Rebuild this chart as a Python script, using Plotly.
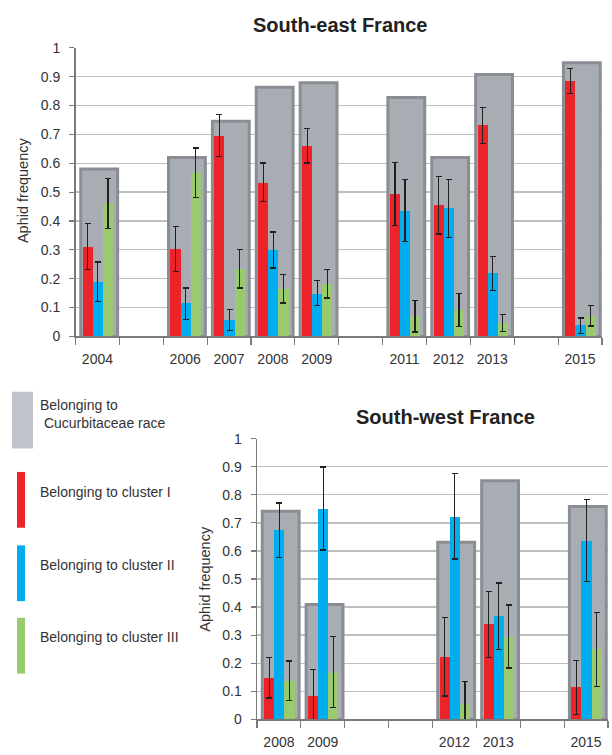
import plotly.graph_objects as go

# ---------------- data ----------------
se_years = [2004, 2006, 2007, 2008, 2009, 2011, 2012, 2013, 2015]
se_cucurbit = [0.58, 0.62, 0.746, 0.863, 0.879, 0.828, 0.62, 0.908, 0.948]
se_c1 = [0.311, 0.304, 0.696, 0.533, 0.660, 0.494, 0.454, 0.731, 0.885]
se_c1_hi = [0.391, 0.382, 0.768, 0.601, 0.720, 0.603, 0.554, 0.794, 0.929]
se_c1_lo = [0.232, 0.225, 0.624, 0.468, 0.601, 0.385, 0.355, 0.669, 0.842]
se_c2 = [0.189, 0.114, 0.056, 0.299, 0.148, 0.436, 0.444, 0.219, 0.038]
se_c2_hi = [0.258, 0.168, 0.093, 0.362, 0.194, 0.543, 0.545, 0.276, 0.064]
se_c2_lo = [0.122, 0.059, 0.020, 0.237, 0.106, 0.328, 0.344, 0.160, 0.011]
se_c3 = [0.462, 0.567, 0.234, 0.164, 0.180, 0.070, 0.090, 0.046, 0.072]
se_c3_hi = [0.548, 0.653, 0.300, 0.215, 0.231, 0.125, 0.148, 0.075, 0.107]
se_c3_lo = [0.375, 0.482, 0.168, 0.116, 0.133, 0.015, 0.034, 0.017, 0.036]

sw_years = [2008, 2009, 2012, 2013, 2015]
sw_cucurbit = [0.741, 0.409, 0.631, 0.850, 0.758]
sw_c1 = [0.148, 0.083, 0.222, 0.338, 0.114]
sw_c1_hi = [0.221, 0.178, 0.364, 0.455, 0.210]
sw_c1_lo = [0.076, 0.0, 0.083, 0.221, 0.017]
sw_c2 = [0.674, 0.750, 0.722, 0.367, 0.636]
sw_c2_hi = [0.771, 0.899, 0.876, 0.486, 0.783]
sw_c2_lo = [0.577, 0.603, 0.571, 0.250, 0.490]
sw_c3 = [0.137, 0.166, 0.055, 0.295, 0.250]
sw_c3_hi = [0.208, 0.294, 0.134, 0.407, 0.381]
sw_c3_lo = [0.066, 0.041, 0.0, 0.183, 0.117]

se_range = (2004, 2015)
sw_range = (2008, 2015)

legend_labels = ["Belonging to<br> Cucurbitaceae race", "Belonging to cluster I",
                 "Belonging to cluster II", "Belonging to cluster III"]

# ---------------- style ----------------
GRAY_FILL = "#A8ACB3"
GRAY_LINE = "#8A8E94"
RED = "#EC2329"
BLUE = "#00AEEF"
GREEN = "#9ACA6E"
ERR = "#231F20"
GRID = "#BFBFBF"
AXIS = "#7A7A7A"
TXT = "#333333"
FONT = "Liberation Sans, Arial, sans-serif"

W, H = 612, 755


def px(x):
    return x / W


def py(y):
    return 1 - y / H


fig = go.Figure()


def add_panel(years, cuc, c1, c1h, c1l, c2, c2h, c2l, c3, c3h, c3l, xa, ya):
    fig.add_trace(go.Bar(x=years, y=cuc, width=0.84, offset=-0.38,
                         marker=dict(color=GRAY_FILL, line=dict(color=GRAY_LINE, width=3)),
                         xaxis=xa, yaxis=ya, showlegend=False, hoverinfo="skip"))
    specs = [(c1, c1h, c1l, RED, -0.335), (c2, c2h, c2l, BLUE, -0.105),
             (c3, c3h, c3l, GREEN, 0.125)]
    for vals, hi, lo, col, off in specs:
        plus = [h - v for h, v in zip(hi, vals)]
        minus = [v - l for v, l in zip(vals, lo)]
        fig.add_trace(go.Bar(x=years, y=vals, width=0.23, offset=off,
                             marker=dict(color=col, line=dict(width=0)),
                             error_y=dict(type="data", array=plus, arrayminus=minus,
                                          color=ERR, thickness=1.2, width=3),
                             xaxis=xa, yaxis=ya, showlegend=False))


add_panel(se_years, se_cucurbit, se_c1, se_c1_hi, se_c1_lo, se_c2, se_c2_hi, se_c2_lo,
          se_c3, se_c3_hi, se_c3_lo, "x", "y")
add_panel(sw_years, sw_cucurbit, sw_c1, sw_c1_hi, sw_c1_lo, sw_c2, sw_c2_hi, sw_c2_lo,
          sw_c3, sw_c3_hi, sw_c3_lo, "x2", "y2")


def xaxis_cfg(years, rng, domain):
    lo, hi = rng
    return dict(domain=domain, range=[lo - 0.5, hi + 0.5], tickmode="array",
                tickvals=years, ticktext=[str(y) for y in years], ticks="",
                ticklabelstandoff=9,
                tickfont=dict(family=FONT, size=14, color=TXT),
                showgrid=False, zeroline=False, showline=True, linecolor=AXIS, linewidth=1.5,
                minor=dict(tickmode="array", tickvals=[y + 0.5 for y in range(lo - 1, hi + 1)],
                           ticks="outside", ticklen=7, tickcolor=AXIS, tickwidth=1.2,
                           showgrid=False),
                fixedrange=True)


def yaxis_cfg(domain, anchor):
    return dict(domain=domain, range=[0, 1], tickmode="linear", tick0=0, dtick=0.1,
                ticks="outside", ticklen=5, tickcolor=AXIS, tickwidth=1.2,
                ticklabelstandoff=6,
                tickfont=dict(family=FONT, size=14, color=TXT),
                showgrid=True, gridcolor=GRID, gridwidth=1.3, zeroline=False,
                showline=True, linecolor=AXIS, linewidth=1.5, anchor=anchor,
                fixedrange=True)


fig.update_layout(
    width=W, height=H, margin=dict(l=0, r=0, t=0, b=0),
    paper_bgcolor="white", plot_bgcolor="white",
    barmode="overlay", bargap=0,
    xaxis=dict(**xaxis_cfg(se_years, se_range, [px(75.5), px(602)]), anchor="y"),
    yaxis=yaxis_cfg([py(335.5), py(40.7)], "x"),
    xaxis2=dict(**xaxis_cfg(sw_years, sw_range, [px(257), px(608)]), anchor="y2"),
    yaxis2=yaxis_cfg([py(726.7), py(440)], "x2"),
    showlegend=False,
)

annotations = [
    dict(text="<b>South-east France</b>", x=px(340), y=py(17.5), font=dict(size=20, color="#222")),
    dict(text="<b>South-west France</b>", x=px(445), y=py(418), font=dict(size=20, color="#222")),
    dict(text="Aphid frequency", x=px(23), y=py(186), textangle=-90, font=dict(size=14.5, color=TXT)),
    dict(text="Aphid frequency", x=px(205), y=py(583), textangle=-90, font=dict(size=14.5, color=TXT)),
]
leg_text_y = [415, 494, 569, 643]
for lab, ty in zip(legend_labels, leg_text_y):
    annotations.append(dict(text=lab, x=px(38), y=py(ty), xanchor="left", align="left",
                            font=dict(size=14, color=TXT)))
for a in annotations:
    a.setdefault("xanchor", "center")
    a.update(xref="paper", yref="paper", showarrow=False, yanchor="middle")
    a["font"]["family"] = FONT
fig.update_layout(annotations=annotations)

shapes = [
    dict(type="rect", x0=px(12), x1=px(33), y0=py(450), y1=py(392),
         fillcolor="#C1C4CA", line=dict(width=0)),
    dict(type="rect", x0=px(17), x1=px(25), y0=py(531), y1=py(474),
         fillcolor=RED, line=dict(width=0)),
    dict(type="rect", x0=px(17), x1=px(25), y0=py(606), y1=py(549),
         fillcolor=BLUE, line=dict(width=0)),
    dict(type="rect", x0=px(17), x1=px(25), y0=py(680), y1=py(623),
         fillcolor=GREEN, line=dict(width=0)),
]
for s in shapes:
    s.update(xref="paper", yref="paper")
fig.update_layout(shapes=shapes)

fig.write_html("out.html", config={"displayModeBar": False, "staticPlot": True})

# remove the browser's default page margin so the figure sits at (0, 0)
with open("out.html", "r", encoding="utf-8") as f:
    html = f.read()
html = html.replace("<head>", "<head><style>html,body{margin:0;padding:0;overflow:hidden;}</style>", 1)
with open("out.html", "w", encoding="utf-8") as f:
    f.write(html)
